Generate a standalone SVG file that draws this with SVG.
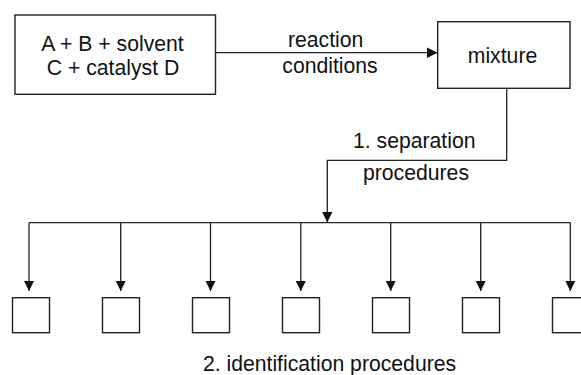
<svg xmlns="http://www.w3.org/2000/svg" width="581" height="375" viewBox="0 0 581 375">
  <style>
    .box { fill: #ffffff; stroke: #222222; stroke-width: 1.4; }
    .wire { fill: none; stroke: #222222; stroke-width: 1.3; }
    .lbl { font-family: "Liberation Sans", Arial, Helvetica, sans-serif; font-size: 21.2px; fill: #111111; text-anchor: middle; }
  </style>
  <defs>
    <marker id="arrow" markerUnits="userSpaceOnUse" viewBox="0 0 10 10" refX="10" refY="5" markerWidth="10.5" markerHeight="10.5" orient="auto">
      <path d="M0,0 L10,5 L0,10 z" fill="#111111"/>
    </marker>
  </defs>
  <rect width="581" height="375" fill="#ffffff"/>

  <g id="connectors">
    <!-- reaction conditions -->
    <line class="wire" x1="215.5" y1="52.7" x2="437.5" y2="52.7" marker-end="url(#arrow)"/>
    <!-- separation path from mixture to the distribution bus -->
    <polyline class="wire" points="506.7,88.3 506.7,160.3 327.3,160.3 327.3,222.3" marker-end="url(#arrow)"/>
    <!-- distribution bus -->
    <line class="wire" x1="29" y1="222.7" x2="570.5" y2="222.7"/>
    <line class="wire" x1="29" y1="222.7" x2="29" y2="291" marker-end="url(#arrow)"/>
    <line class="wire" x1="120.7" y1="222.7" x2="120.7" y2="291" marker-end="url(#arrow)"/>
    <line class="wire" x1="210.5" y1="222.7" x2="210.5" y2="291" marker-end="url(#arrow)"/>
    <line class="wire" x1="300.8" y1="222.7" x2="300.8" y2="291" marker-end="url(#arrow)"/>
    <line class="wire" x1="390.7" y1="222.7" x2="390.7" y2="291" marker-end="url(#arrow)"/>
    <line class="wire" x1="480.7" y1="222.7" x2="480.7" y2="291" marker-end="url(#arrow)"/>
    <line class="wire" x1="570.3" y1="222.7" x2="570.3" y2="291" marker-end="url(#arrow)"/>
    <text class="lbl" x="325.7" y="46.5">reaction</text>
    <text class="lbl" x="330" y="72.5">conditions</text>
    <text class="lbl" x="414.3" y="147.5">1. separation</text>
    <text class="lbl" x="416" y="180">procedures</text>
  </g>

  <g id="reactants">
    <rect class="box" x="15" y="15" width="200.5" height="79.3"/>
    <text class="lbl" x="112.5" y="50.5">A + B + solvent</text>
    <text class="lbl" x="113" y="74.5">C + catalyst D</text>
  </g>

  <g id="mixture">
    <rect class="box" x="437.7" y="21.7" width="132.3" height="66.6"/>
    <text class="lbl" x="502.5" y="63">mixture</text>
  </g>

  <g id="fraction-1"><rect class="box" x="12.5" y="297.7" width="37" height="35"/></g>
  <g id="fraction-2"><rect class="box" x="102.5" y="297.7" width="37" height="35"/></g>
  <g id="fraction-3"><rect class="box" x="192.5" y="297.7" width="37" height="35"/></g>
  <g id="fraction-4"><rect class="box" x="282.5" y="297.7" width="37" height="35"/></g>
  <g id="fraction-5"><rect class="box" x="372.5" y="297.7" width="37" height="35"/></g>
  <g id="fraction-6"><rect class="box" x="462.5" y="297.7" width="37" height="35"/></g>
  <g id="fraction-7"><rect class="box" x="552.5" y="297.7" width="37" height="35"/></g>

  <g id="identification">
    <text class="lbl" x="329.5" y="370.5">2. identification procedures</text>
  </g>
</svg>
